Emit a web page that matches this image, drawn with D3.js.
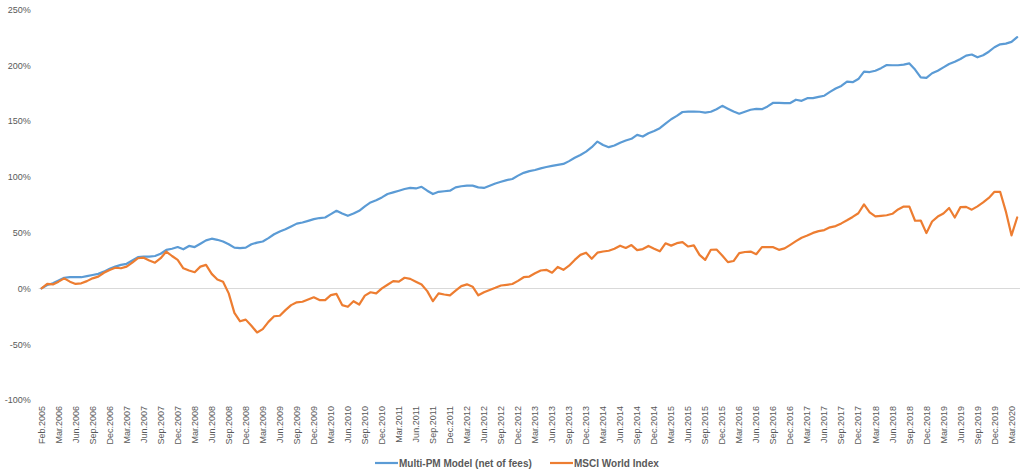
<!DOCTYPE html>
<html>
<head>
<meta charset="utf-8">
<script src="https://cdn.jsdelivr.net/npm/d3@7"></script>
<style>
  html, body { margin: 0; padding: 0; background: #fff; }
  #chart { width: 1024px; height: 475px; }
</style>
</head>
<body>
<div id="chart"></div>
<script>
// first point is the Feb.2005 base, then monthly from Jan.2006 to Apr.2020
const MONTHS = ['Jan', 'Feb', 'Mar', 'Apr', 'May', 'Jun', 'Jul', 'Aug', 'Sep', 'Oct', 'Nov', 'Dec'];
const categories = ['Feb.2005'];
for (let yr = 2006; yr <= 2020; yr++) {
  for (let m = 0; m < 12; m++) {
    if (yr === 2020 && m > 3) break;
    categories.push(`${MONTHS[m]}.${yr}`);
  }
}

const multiPM = [
  0, 3, 4.5, 7, 9.5, 10, 10, 10, 11, 12, 13, 15, 17.5, 19.5, 21, 22, 25, 28, 28.5, 28.5,
  29, 31, 34.5, 35.5, 37, 35, 38, 37, 40, 43, 44.5, 43.5, 42, 39.5, 36.5, 36, 36.5, 39.5, 41, 42,
  45, 48.5, 51, 53, 55.5, 58, 59, 60.5, 62, 63, 63.5, 66.5, 69.5, 67, 65, 67, 69.5, 73.5, 77, 79,
  81.5, 84.5, 86, 87.5, 89, 90, 89.5, 91, 87.5, 84.5, 86.5, 87, 87.5, 90.5, 91.5, 92, 92, 90.5, 90, 92,
  94, 95.5, 97, 98, 101, 103.5, 105, 106, 107.5, 108.7, 109.7, 110.7, 111.5, 114, 117, 119.5, 122.5, 126.5, 131.5, 128.5,
  126.5, 128, 130.5, 132.5, 134, 137.5, 136, 139, 141, 143.5, 147.5, 151.5, 154.5, 158, 158.4, 158.4, 158.2, 157.5, 158.2, 160.5,
  163.5, 161, 158.5, 156.5, 158.3, 160, 160.8, 160.5, 163, 166.3, 166.2, 166, 166, 169, 168, 170.4, 170.4, 171.5, 172.6, 176,
  179, 181.3, 185.2, 184.7, 187.5, 194.2, 193.8, 195, 197.3, 200.1, 199.9, 199.9, 200.5, 201.5, 196, 189, 188.5, 192.7, 195, 198,
  201, 203, 205.5, 208.5, 209.5, 207, 208.8, 212, 216, 218.6, 219.3, 220.8, 225
];

const msciWorld = [
  0, 4, 3.5, 6, 9, 6, 4, 4.5, 6.5, 9, 10.5, 14, 16.5, 18.5, 18, 19.5, 23, 27, 27.5, 25,
  23, 27, 33, 29, 25.5, 18, 16, 14.5, 19.5, 21, 13, 8, 6, -4.5, -22, -29.5, -28, -33.5, -39.5, -36.5,
  -30, -25, -24.5, -19.5, -15, -12.5, -12, -10, -8, -10.5, -10.5, -6, -5, -15, -16.5, -11.5, -14.5, -6.5, -3.5, -4.5,
  0, 3.2, 6.5, 6, 9.5, 8.5, 6, 3.5, -2.5, -11.5, -4.5, -5.5, -6.2, -2, 2, 3.6, 1.5, -6.2, -3.5, -1.4,
  0.5, 2.6, 3.2, 3.9, 6.7, 10, 10.6, 13.5, 16, 16.6, 14, 19.2, 16.6, 20.3, 25.5, 30, 32, 26.5, 32, 33,
  33.7, 35.5, 38.2, 36.2, 38.8, 34.3, 35.2, 38, 35.5, 33.2, 40.4, 38.3, 40.5, 41.4, 37.5, 38.5, 30, 25.5, 34.6, 34.8,
  29.5, 23.5, 24.5, 31.6, 32.6, 33, 30.6, 36.9, 36.9, 36.9, 34.5, 35.8, 39, 42.3, 45.4, 47.3, 49.7, 51.3, 52.2, 54.7,
  55.8, 58.2, 61, 64, 67.3, 75.3, 68, 64.5, 65, 65.5, 66.8, 70.7, 73.3, 73.3, 60.6, 60.8, 49.5, 59.9, 64.3, 67,
  72, 63.5, 72.8, 73, 70.5, 73.5, 77, 81, 86.5, 86.5, 69, 47.5, 63.5
];

const yTicks = [-100, -50, 0, 50, 100, 150, 200, 250];
const seriesNames = ['Multi-PM Model (net of fees)', 'MSCI World Index'];
const seriesColors = ['#5B9BD5', '#ED7D31'];

const W = 1024, H = 475;
const plot = { left: 38.7, right: 1020, top: 9.3, bottom: 400 };
const FONT = "'Liberation Sans', Arial, sans-serif";
const TXT = '#595959';

const svg = d3.select('#chart').append('svg')
  .attr('width', W).attr('height', H);

const x = d3.scalePoint().domain(categories).range([plot.left, plot.right]).padding(0.5);
const y = d3.scaleLinear().domain([-100, 250]).range([plot.bottom, plot.top]);

// zero line
svg.append('line')
  .attr('x1', plot.left).attr('x2', plot.right)
  .attr('y1', Math.round(y(0)) + 0.5).attr('y2', Math.round(y(0)) + 0.5)
  .attr('stroke', '#D9D9D9').attr('stroke-width', 1);

// y axis labels
const yAxis = svg.append('g')
  .attr('transform', `translate(${plot.left - 5},0)`)
  .call(d3.axisLeft(y).tickValues(yTicks).tickSize(0).tickPadding(3).tickFormat(d => `${d}%`));
yAxis.select('.domain').remove();
yAxis.selectAll('text')
  .attr('fill', TXT).attr('font-family', FONT).attr('font-size', '9px');

// x axis labels, every third category
svg.append('g')
  .selectAll('text')
  .data(categories.filter((d, i) => i % 3 === 0))
  .enter().append('text')
  .attr('transform', d => `translate(${x(d)},406) rotate(-90)`)
  .attr('text-anchor', 'end')
  .attr('dy', '0.35em')
  .attr('fill', TXT).attr('font-family', FONT).attr('font-size', '9px')
  .text(d => d);

// lines
const line = d3.line()
  .x((d, i) => x(categories[i]))
  .y(d => y(d));

[multiPM, msciWorld].forEach((vals, k) => {
  svg.append('path')
    .datum(vals)
    .attr('fill', 'none')
    .attr('stroke', seriesColors[k])
    .attr('stroke-width', 2.2)
    .attr('stroke-linejoin', 'round')
    .attr('stroke-linecap', 'round')
    .attr('d', line);
});

// legend
const legend = svg.append('g').attr('transform', 'translate(0,463)');
const legX = [375, 550];
seriesNames.forEach((name, k) => {
  legend.append('line')
    .attr('x1', legX[k]).attr('x2', legX[k] + 23)
    .attr('y1', 0).attr('y2', 0)
    .attr('stroke', seriesColors[k]).attr('stroke-width', 2.2);
  legend.append('text')
    .attr('x', legX[k] + 24).attr('y', 0).attr('dy', '0.35em')
    .attr('fill', TXT).attr('font-family', FONT).attr('font-size', '10px').attr('font-weight', 'bold')
    .text(name);
});
</script>
</body>
</html>
